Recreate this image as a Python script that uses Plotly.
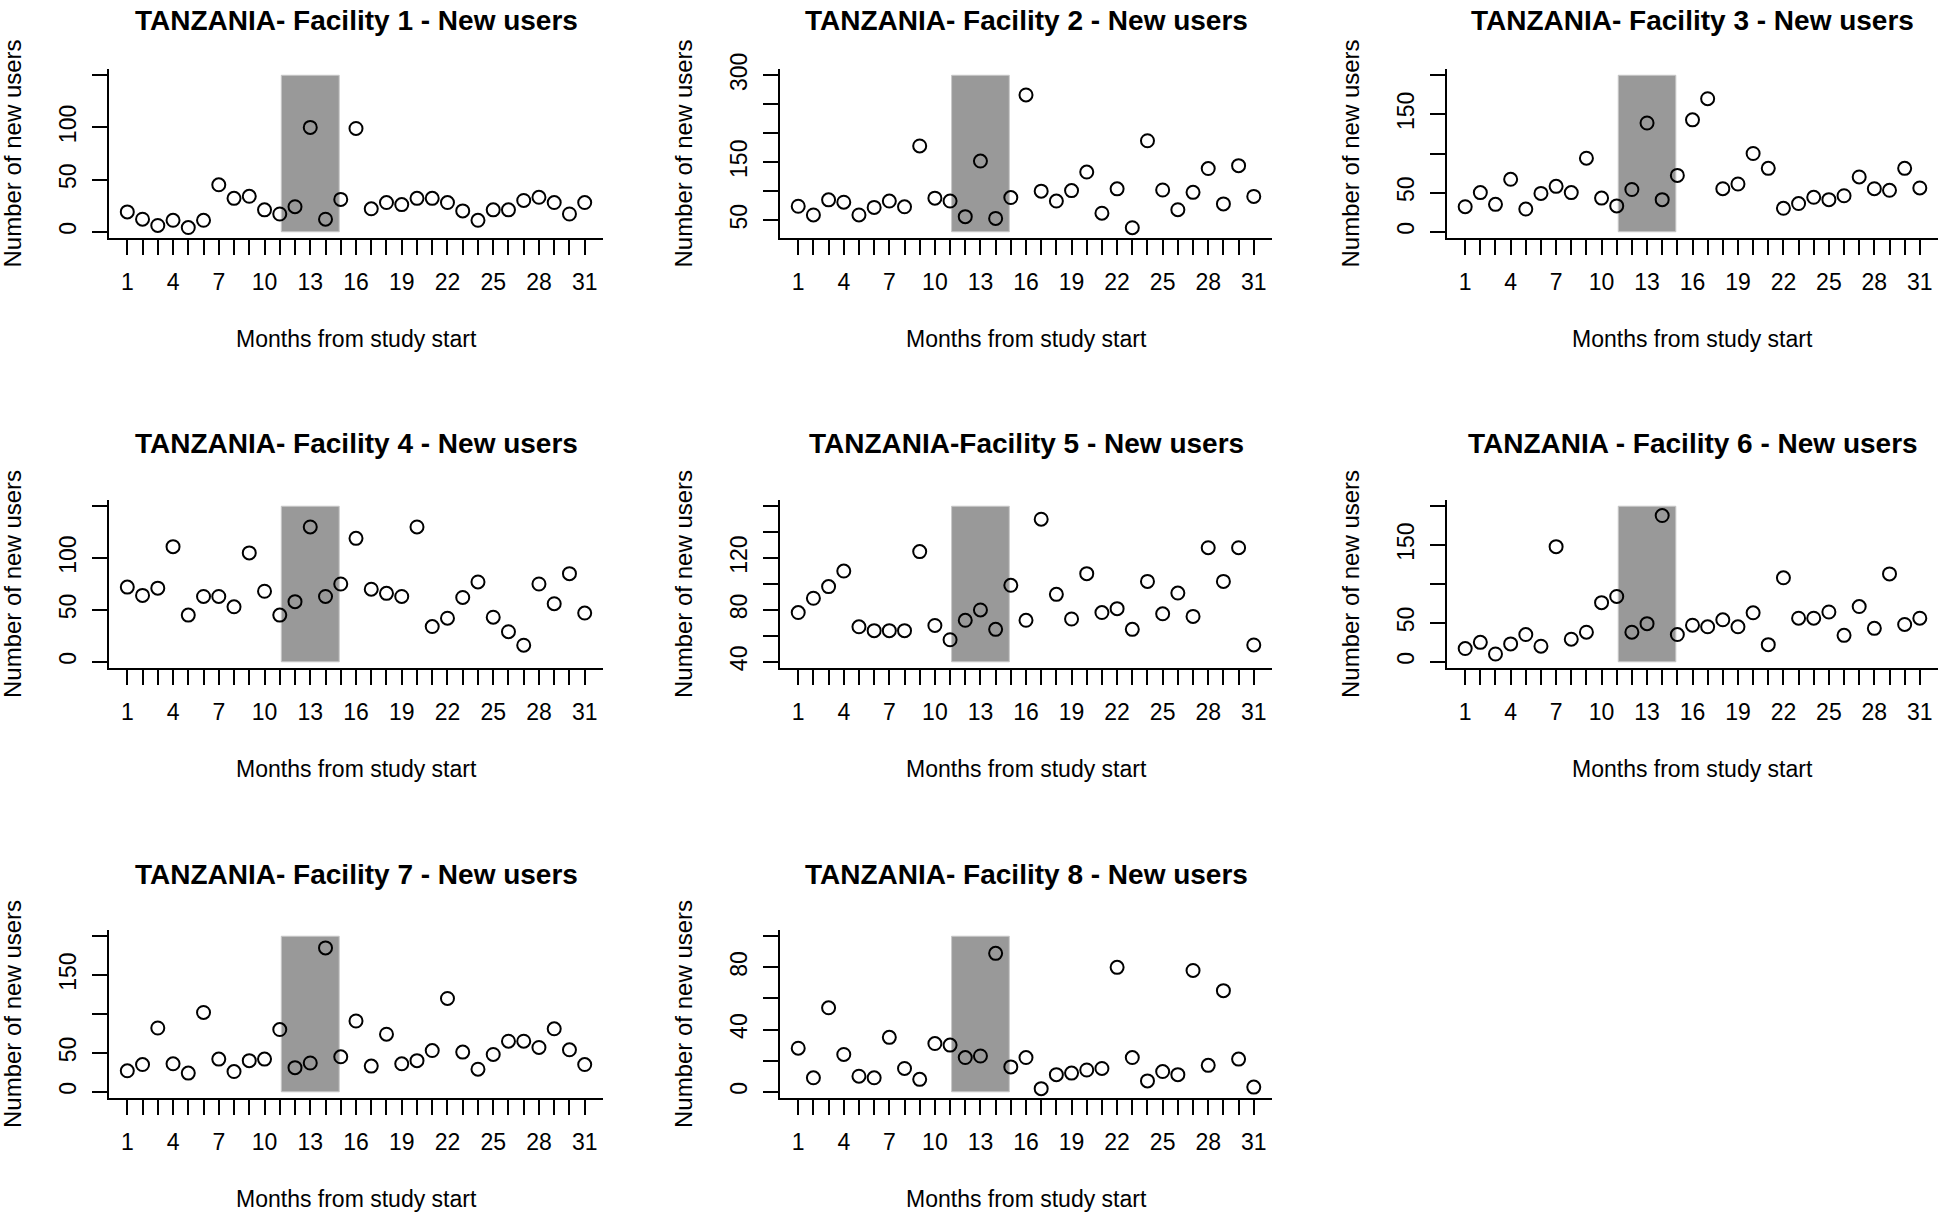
import plotly.graph_objects as go

# ---------------- data ----------------
months = list(range(1, 32))
x_label_months = [1, 4, 7, 10, 13, 16, 19, 22, 25, 28, 31]

titles = [
    "TANZANIA- Facility 1 - New users",
    "TANZANIA- Facility 2 - New users",
    "TANZANIA- Facility 3 - New users",
    "TANZANIA- Facility 4 - New users",
    "TANZANIA-Facility 5 - New users",
    "TANZANIA - Facility 6 - New users",
    "TANZANIA- Facility 7 - New users",
    "TANZANIA- Facility 8 - New users",
]

facility1 = [19, 12, 6, 11, 4, 11, 45, 32, 34, 21, 17, 24, 100, 12, 31, 99,
             22, 28, 26, 32, 32, 28, 20, 11, 21, 21, 30, 33, 28, 17, 28]
facility2 = [74, 59, 85, 81, 59, 72, 83, 73, 178, 88, 83, 56, 152, 53, 89, 266,
             100, 83, 101, 133, 62, 104, 37, 187, 102, 68, 98, 139, 78, 144, 91]
facility3 = [32, 50, 35, 67, 29, 49, 58, 50, 94, 43, 33, 54, 139, 41, 72, 143,
             170, 55, 61, 100, 81, 30, 36, 44, 41, 46, 70, 55, 53, 81, 56]
facility4 = [72, 64, 71, 111, 45, 63, 63, 53, 105, 68, 45, 58, 130, 63, 75, 119,
             70, 66, 63, 130, 34, 42, 62, 77, 43, 29, 16, 75, 56, 85, 47]
facility5 = [78, 89, 98, 110, 67, 64, 64, 64, 125, 68, 57, 72, 80, 65, 99, 72,
             150, 92, 73, 108, 78, 81, 65, 102, 77, 93, 75, 128, 102, 128, 53]
facility6 = [17, 25, 10, 23, 35, 20, 148, 29, 38, 76, 84, 38, 49, 188, 35, 47,
             45, 54, 45, 63, 22, 108, 56, 56, 64, 34, 71, 43, 113, 48, 56]
facility7 = [27, 35, 82, 36, 24, 102, 42, 26, 40, 42, 80, 31, 37, 185, 45, 91,
             33, 74, 36, 40, 53, 120, 51, 29, 48, 65, 65, 57, 81, 54, 35]
facility8 = [28, 9, 54, 24, 10, 9, 35, 15, 8, 31, 30, 22, 23, 89, 16, 22,
             2, 11, 12, 14, 15, 80, 22, 7, 13, 11, 78, 17, 65, 21, 3]

series = [facility1, facility2, facility3, facility4,
          facility5, facility6, facility7, facility8]

# y-axis limits and ticks per facility
y_limits = [(0, 150), (30, 300), (0, 200), (0, 150),
            (40, 160), (0, 200), (0, 200), (0, 100)]
y_tickvals = [
    [0, 50, 100, 150],
    [50, 100, 150, 200, 250, 300],
    [0, 50, 100, 150, 200],
    [0, 50, 100, 150],
    [40, 60, 80, 100, 120, 140, 160],
    [0, 50, 100, 150, 200],
    [0, 50, 100, 150, 200],
    [0, 20, 40, 60, 80, 100],
]
y_ticktext = [
    ["0", "50", "100", ""],
    ["50", "", "150", "", "", "300"],
    ["0", "50", "", "150", ""],
    ["0", "50", "100", ""],
    ["40", "", "80", "", "120", "", ""],
    ["0", "50", "", "150", ""],
    ["0", "50", "", "150", ""],
    ["0", "", "40", "", "80", ""],
]

# intervention period (shaded)
shade_start = 11.1
shade_end = 14.9

# ---------------- layout ----------------
W, H = 1944, 1215
col_left = [109, 780, 1447]
col_right = [603, 1272, 1938]
row_top = [69, 500, 930]
row_bottom = [238, 668, 1098]

FONT = "Liberation Sans, Arial, sans-serif"

fig = go.Figure()
annotations = []
shapes = []

for i, vals in enumerate(series):
    r, c = divmod(i, 3)
    ax = "" if i == 0 else str(i + 1)
    xd = [col_left[c] / W, col_right[c] / W]
    yd = [1 - row_bottom[r] / H, 1 - row_top[r] / H]
    lo, hi = y_limits[i]
    pad = 0.04 * (hi - lo)

    fig.add_trace(go.Scatter(
        x=months, y=vals, mode="markers",
        marker=dict(symbol="circle-open", size=13, color="black",
                    line=dict(width=2, color="black")),
        xaxis="x" + ax, yaxis="y" + ax, showlegend=False,
        hovertemplate="Month %{x}: %{y}<extra></extra>",
    ))

    fig.layout["xaxis" + ax] = dict(
        domain=xd, range=[-0.2, 32.2], anchor="y" + ax,
        tickmode="array", tickvals=months,
        ticktext=[str(m) if m in x_label_months else "" for m in months],
        ticks="outside", ticklen=15, tickwidth=2, tickcolor="black",
        showline=True, linecolor="black", linewidth=2,
        showgrid=False, zeroline=False, automargin=False,
        tickfont=dict(family=FONT, size=23, color="black"),
        ticklabelstandoff=7,
        fixedrange=True,
    )
    fig.layout["yaxis" + ax] = dict(
        domain=yd, range=[lo - pad, hi + pad], anchor="x" + ax,
        tickmode="array", tickvals=y_tickvals[i], ticktext=y_ticktext[i],
        ticks="outside", ticklen=15, tickwidth=2, tickcolor="black",
        tickangle=-90,
        showline=True, linecolor="black", linewidth=2,
        showgrid=False, zeroline=False, automargin=False,
        tickfont=dict(family=FONT, size=23, color="black"),
        ticklabelstandoff=7,
        fixedrange=True,
    )

    shapes.append(dict(
        type="rect", xref="x" + ax, yref="y" + ax,
        x0=shade_start, x1=shade_end, y0=lo, y1=hi,
        fillcolor="#999999", line=dict(color="#c8c8c8", width=1),
        layer="below",
    ))

    cx = (col_left[c] + col_right[c]) / 2 / W
    cy = (row_top[r] + row_bottom[r]) / 2
    title_y = max(row_top[r] - 56, 20)
    annotations.append(dict(
        text="<b>" + titles[i] + "</b>", x=cx, y=1 - title_y / H,
        xref="paper", yref="paper", xanchor="center", yanchor="middle",
        showarrow=False, font=dict(family=FONT, size=28, color="black"),
    ))
    annotations.append(dict(
        text="Months from study start", x=cx, y=1 - (row_bottom[r] + 101) / H,
        xref="paper", yref="paper", xanchor="center", yanchor="middle",
        showarrow=False, font=dict(family=FONT, size=23, color="black"),
    ))
    annotations.append(dict(
        text="Number of new users", x=(col_left[c] - 97) / W, y=1 - cy / H,
        xref="paper", yref="paper", xanchor="center", yanchor="middle",
        textangle=-90,
        showarrow=False, font=dict(family=FONT, size=24, color="black"),
    ))

fig.update_layout(
    width=W, height=H, autosize=False,
    margin=dict(l=0, r=0, t=0, b=0, pad=0, autoexpand=False),
    paper_bgcolor="white", plot_bgcolor="white",
    annotations=annotations, shapes=shapes,
    font=dict(family=FONT, color="black"),
)

fig.write_html(
    "out.html",
    config={"displayModeBar": False},
    post_script="document.body.style.margin='0';document.body.style.overflow='hidden';document.documentElement.style.overflow='hidden';",
)
